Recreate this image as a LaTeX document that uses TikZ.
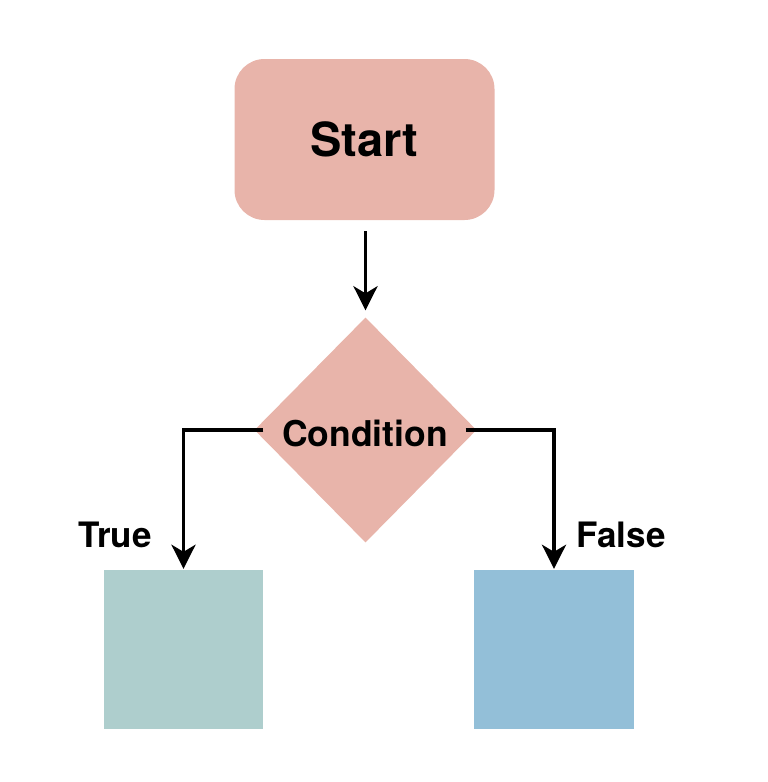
\documentclass[tikz,border=0pt]{standalone}
\usepackage{fontspec}
\setmainfont{TeX Gyre Heros}
\usetikzlibrary{shapes.geometric,arrows.meta}
\definecolor{salmon}{HTML}{E8B4AA}
\definecolor{tealbox}{HTML}{AECECD}
\definecolor{bluebox}{HTML}{93BFD8}
\tikzset{
  conn/.style={line width=3.8pt, -{Stealth[length=24pt,width=24pt,inset=7pt]}},
  lbl/.style={font=\bfseries\fontsize{35}{40}\selectfont, inner sep=0pt},
}
\begin{document}
\begin{tikzpicture}[x=1pt,y=-1pt]
\useasboundingbox (0,0) rectangle (768,782);
\node[fill=salmon, rounded corners=30pt, minimum width=260pt, minimum height=161pt, inner sep=0pt,
      font=\bfseries\fontsize{47}{50}\selectfont] (start) at (364.5,139.5) {Start};
\node[diamond, fill=salmon, minimum width=222pt, minimum height=225pt, inner sep=0pt] (cond) at (365.5,430) {};
\node[font=\bfseries\fontsize{35.5}{40}\selectfont, inner sep=0pt] (condtext) at (365,433) {Condition};
\node[fill=tealbox, minimum width=159pt, minimum height=159pt, inner sep=0pt] (tbox) at (183.5,649.5) {};
\node[fill=bluebox, minimum width=160pt, minimum height=159pt, inner sep=0pt] (fbox) at (554,649.5) {};
\node[lbl] (tl) at (115,535) {True};
\node[lbl] (fl) at (621,535) {False};
\draw[conn, shorten <=11pt, shorten >=7pt] (start.south -| cond.north) -- (cond.north);
\draw[conn, shorten >=1pt] ([xshift=9pt]cond.west) -| (tbox.north);
\draw[conn, shorten >=1pt] ([xshift=-11pt]cond.east) -| (fbox.north);
\end{tikzpicture}
\end{document}
